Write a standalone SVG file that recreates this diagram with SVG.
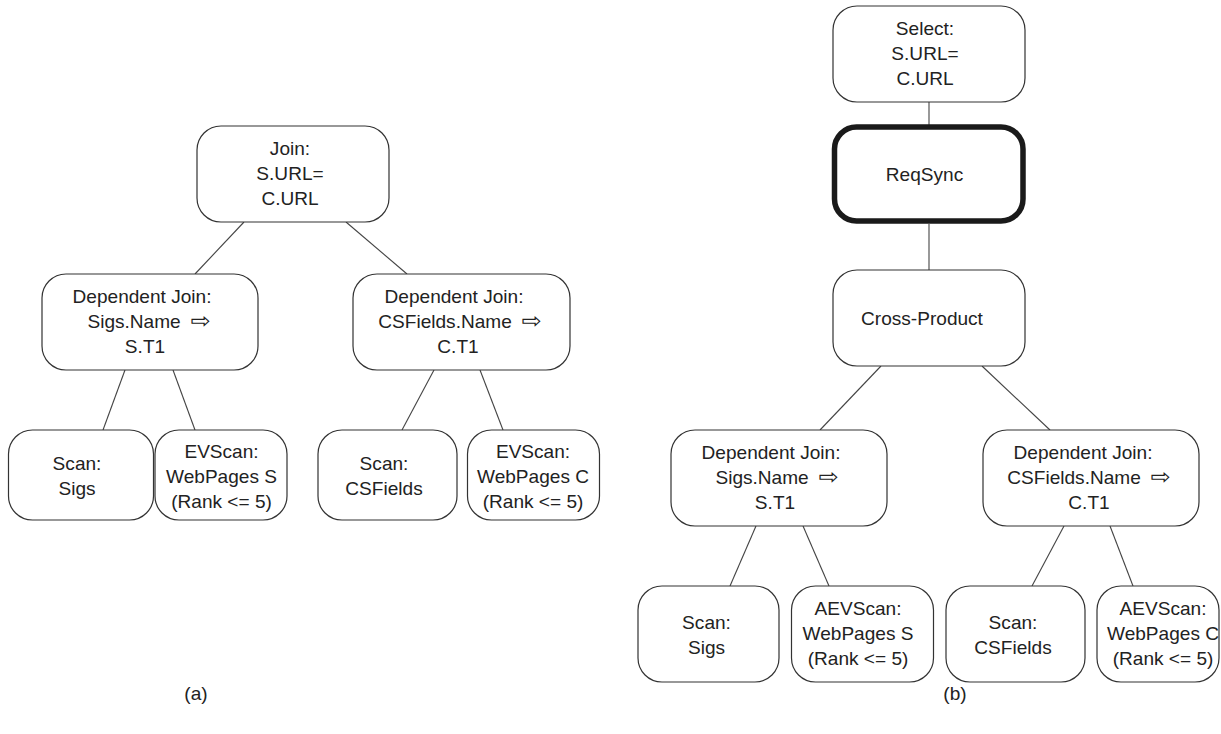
<svg xmlns="http://www.w3.org/2000/svg" width="1221" height="734" viewBox="0 0 1221 734">
<style>
  .box{fill:#ffffff;stroke:#333333;stroke-width:1.2}
  .thick{fill:#ffffff;stroke:#1a1a1a;stroke-width:5.5}
  .edge{stroke:#444444;stroke-width:1.1;fill:none}
  text{font-family:"Liberation Sans",Arial,Helvetica,sans-serif;font-size:17.5px;fill:#222222;text-anchor:middle}
  .arr{font-family:"DejaVu Sans",sans-serif;font-size:22px}
</style>
<rect width="1221" height="734" fill="#ffffff"/>
<g id="connectors">
  <line class="edge" x1="244" y1="222" x2="195" y2="274"/>
  <line class="edge" x1="346" y1="222" x2="407" y2="274"/>
  <line class="edge" x1="125" y1="370" x2="103" y2="430"/>
  <line class="edge" x1="173" y1="370" x2="195" y2="430"/>
  <line class="edge" x1="434" y1="370" x2="402" y2="430"/>
  <line class="edge" x1="480" y1="370" x2="503" y2="430"/>
  <line class="edge" x1="929" y1="102" x2="929" y2="125"/>
  <line class="edge" x1="929" y1="224" x2="929" y2="270"/>
  <line class="edge" x1="881" y1="366" x2="820" y2="430"/>
  <line class="edge" x1="982" y1="366" x2="1050" y2="430"/>
  <line class="edge" x1="756" y1="526" x2="730" y2="586"/>
  <line class="edge" x1="803" y1="526" x2="829" y2="586"/>
  <line class="edge" x1="1064" y1="526" x2="1032" y2="586"/>
  <line class="edge" x1="1110" y1="526" x2="1133" y2="586"/>
</g>
<g id="a_join">
  <rect class="box" x="197" y="126" width="192" height="96" rx="24"/>
  <text transform="translate(290 0) scale(1.09 1)"><tspan x="0" y="155">Join:</tspan><tspan x="0" y="180">S.URL=</tspan><tspan x="0" y="205">C.URL</tspan></text>
</g>
<g id="a_dj_sigs">
  <rect class="box" x="42" y="274" width="216" height="96" rx="24"/>
  <text transform="translate(142 0) scale(1.09 1)"><tspan x="0" y="303">Dependent Join:</tspan></text>
  <text transform="translate(149 0) scale(1.09 1)"><tspan x="0" y="328">Sigs.Name</tspan><tspan class="arr" dx="9">⇨</tspan></text>
  <text transform="translate(145 0) scale(1.09 1)"><tspan x="0" y="353">S.T1</tspan></text>
</g>
<g id="a_dj_cs">
  <rect class="box" x="353" y="274" width="217" height="96" rx="24"/>
  <text transform="translate(454 0) scale(1.09 1)"><tspan x="0" y="303">Dependent Join:</tspan></text>
  <text transform="translate(460 0) scale(1.09 1)"><tspan x="0" y="328">CSFields.Name</tspan><tspan class="arr" dx="9">⇨</tspan></text>
  <text transform="translate(458 0) scale(1.09 1)"><tspan x="0" y="353">C.T1</tspan></text>
</g>
<g id="a_scan_sigs">
  <rect class="box" x="8.5" y="430" width="145" height="90" rx="24"/>
  <text transform="translate(77 0) scale(1.09 1)"><tspan x="0" y="470">Scan:</tspan><tspan x="0" y="495">Sigs</tspan></text>
</g>
<g id="a_evscan_s">
  <rect class="box" x="155" y="430" width="132" height="90" rx="24"/>
  <text transform="translate(221.5 0) scale(1.09 1)"><tspan x="0" y="458">EVScan:</tspan><tspan x="0" y="483">WebPages S</tspan><tspan x="0" y="508">(Rank &lt;= 5)</tspan></text>
</g>
<g id="a_scan_cs">
  <rect class="box" x="318" y="430" width="139" height="90" rx="24"/>
  <text transform="translate(384 0) scale(1.09 1)"><tspan x="0" y="470">Scan:</tspan><tspan x="0" y="495">CSFields</tspan></text>
</g>
<g id="a_evscan_c">
  <rect class="box" x="467.5" y="430" width="132" height="90" rx="24"/>
  <text transform="translate(533 0) scale(1.09 1)"><tspan x="0" y="458">EVScan:</tspan><tspan x="0" y="483">WebPages C</tspan><tspan x="0" y="508">(Rank &lt;= 5)</tspan></text>
</g>
<g id="b_select">
  <rect class="box" x="833" y="6" width="192" height="96" rx="24"/>
  <text transform="translate(925 0) scale(1.09 1)"><tspan x="0" y="35">Select:</tspan><tspan x="0" y="60">S.URL=</tspan><tspan x="0" y="85">C.URL</tspan></text>
</g>
<g id="b_reqsync">
  <rect class="thick" x="834.5" y="127" width="188.5" height="94" rx="22"/>
  <text transform="translate(924.5 0) scale(1.09 1)"><tspan x="0" y="181">ReqSync</tspan></text>
</g>
<g id="b_crossproduct">
  <rect class="box" x="833" y="270" width="192" height="96" rx="24"/>
  <text transform="translate(922 0) scale(1.09 1)"><tspan x="0" y="325">Cross-Product</tspan></text>
</g>
<g id="b_dj_sigs">
  <rect class="box" x="671" y="430" width="216" height="96" rx="24"/>
  <text transform="translate(771 0) scale(1.09 1)"><tspan x="0" y="459">Dependent Join:</tspan></text>
  <text transform="translate(777 0) scale(1.09 1)"><tspan x="0" y="484">Sigs.Name</tspan><tspan class="arr" dx="9">⇨</tspan></text>
  <text transform="translate(775 0) scale(1.09 1)"><tspan x="0" y="509">S.T1</tspan></text>
</g>
<g id="b_dj_cs">
  <rect class="box" x="983" y="430" width="216" height="96" rx="24"/>
  <text transform="translate(1083 0) scale(1.09 1)"><tspan x="0" y="459">Dependent Join:</tspan></text>
  <text transform="translate(1089 0) scale(1.09 1)"><tspan x="0" y="484">CSFields.Name</tspan><tspan class="arr" dx="9">⇨</tspan></text>
  <text transform="translate(1089 0) scale(1.09 1)"><tspan x="0" y="509">C.T1</tspan></text>
</g>
<g id="b_scan_sigs">
  <rect class="box" x="638" y="586" width="141" height="96" rx="24"/>
  <text transform="translate(706.5 0) scale(1.09 1)"><tspan x="0" y="629">Scan:</tspan><tspan x="0" y="654">Sigs</tspan></text>
</g>
<g id="b_aevscan_s">
  <rect class="box" x="791.5" y="586" width="142" height="96" rx="24"/>
  <text transform="translate(858 0) scale(1.09 1)"><tspan x="0" y="615">AEVScan:</tspan><tspan x="0" y="640">WebPages S</tspan><tspan x="0" y="665">(Rank &lt;= 5)</tspan></text>
</g>
<g id="b_scan_cs">
  <rect class="box" x="946" y="586" width="139" height="96" rx="24"/>
  <text transform="translate(1013 0) scale(1.09 1)"><tspan x="0" y="629">Scan:</tspan><tspan x="0" y="654">CSFields</tspan></text>
</g>
<g id="b_aevscan_c">
  <rect class="box" x="1097" y="586" width="122" height="96" rx="24"/>
  <text transform="translate(1163 0) scale(1.09 1)"><tspan x="0" y="615">AEVScan:</tspan><tspan x="0" y="640">WebPages C</tspan><tspan x="0" y="665">(Rank &lt;= 5)</tspan></text>
</g>
<g id="labels">
  <text transform="translate(196 0) scale(1.09 1)"><tspan x="0" y="700">(a)</tspan></text>
  <text transform="translate(955 0) scale(1.09 1)"><tspan x="0" y="700">(b)</tspan></text>
</g>
</svg>
